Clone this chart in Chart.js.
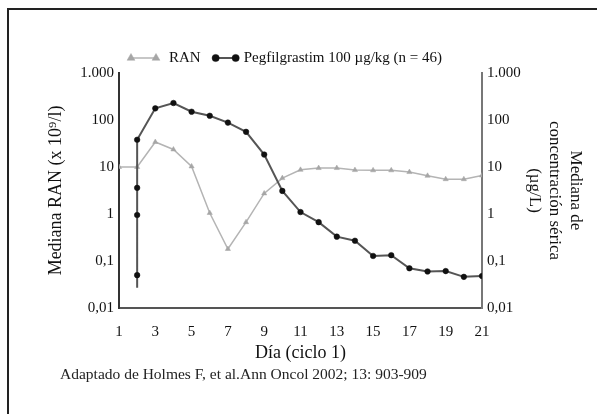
<!DOCTYPE html>
<html>
<head>
<meta charset="utf-8">
<script src="https://cdn.jsdelivr.net/npm/chart.js@4"></script>
<style>
  html, body { margin: 0; padding: 0; background: #fff; }
  #wrap { position: relative; width: 597px; height: 414px; overflow: hidden; }
  #marco { position: absolute; left: 7px; top: 8px; width: 620px; height: 430px;
           border-left: 2px solid #222; border-top: 2px solid #222; }
  #nota { position: absolute; left: 60px; top: 365px; font: 15.5px "Liberation Serif", serif; color: #222; }
  canvas { position: absolute; left: 0; top: 0; }
</style>
</head>
<body>
<div id="wrap">
  <div id="marco"></div>
  <canvas id="grafico" width="597" height="414"></canvas>
  <div id="nota">Adaptado de Holmes F, et al.Ann Oncol 2002; 13: 903-909</div>
</div>
<script>
// datos
const diasRAN = [1, 2, 3, 4, 5, 6, 7, 8, 9, 10, 11, 12, 13, 14, 15, 16, 17, 18, 19, 20, 21];
const valoresRAN = [10, 10, 34, 23.6, 10.3, 1.05, 0.18, 0.67, 2.74, 5.8, 8.7, 9.5, 9.5, 8.6, 8.5, 8.5, 7.8, 6.5, 5.5, 5.5, 6.6];

const diasPeg = [2, 2, 2, 2, 2, 3, 4, 5, 6, 7, 8, 9, 10, 11, 12, 13, 14, 15, 16, 17, 18, 19, 20, 21];
const valoresPeg = [0.027, 0.05, 0.95, 3.6, 38, 177, 230, 150, 123, 88, 56, 18.4, 3.1, 1.1, 0.67, 0.33, 0.27, 0.128, 0.133, 0.07, 0.06, 0.061, 0.046, 0.048];

const ticksY = [0.01, 0.1, 1, 10, 100, 1000];
const etiquetasY = ["0,01", "0,1", "1", "10", "100", "1.000"];

const etiquetaRAN = "RAN";
const etiquetaPeg = "Pegfilgrastim 100 µg/kg (n = 46)";

const fuente = "'Liberation Serif', 'Times New Roman', serif";

function formatoY(v) {
  const i = ticksY.findIndex(t => Math.abs(Math.log10(t) - Math.log10(v)) < 1e-6);
  return i >= 0 ? etiquetasY[i] : "";
}

// leyenda con dos marcadores y linea, como en la figura
const leyendaPlugin = {
  id: "leyenda",
  afterDraw(chart) {
    const ctx = chart.ctx;
    const y = 58;
    let x = 131;
    ctx.save();
    ctx.font = "15px " + fuente;
    ctx.textBaseline = "middle";
    chart.data.datasets.forEach((ds, i) => {
      const ancho = i === 0 ? 25 : 20;
      ctx.strokeStyle = ds.borderColor;
      ctx.lineWidth = ds.borderWidth;
      ctx.beginPath();
      ctx.moveTo(x, y);
      ctx.lineTo(x + ancho, y);
      ctx.stroke();
      [x, x + ancho].forEach(px => {
        ctx.fillStyle = ds.pointBackgroundColor;
        ctx.strokeStyle = ds.pointBorderColor;
        ctx.lineWidth = 0.5;
        Chart.helpers.drawPoint(ctx, {
          pointStyle: ds.pointStyle,
          radius: i === 0 ? 4.5 : 3.6,
          borderWidth: 0.5
        }, px, y);
      });
      ctx.fillStyle = "#111";
      const tx = x + ancho + (i === 0 ? 13 : 8);
      ctx.fillText(ds.label, tx, y);
      x = tx + ctx.measureText(ds.label).width + 15;
    });
    ctx.restore();
  }
};

new Chart(document.getElementById("grafico"), {
  type: "line",
  data: {
    datasets: [
      {
        label: etiquetaRAN,
        data: diasRAN.map((d, i) => ({ x: d, y: valoresRAN[i] })),
        yAxisID: "y",
        borderColor: "#b4b4b4",
        borderWidth: 1.5,
        pointStyle: "triangle",
        pointRadius: 3,
        pointBorderWidth: 0.5,
        pointBackgroundColor: "#a6a6a6",
        pointBorderColor: "#a6a6a6",
        order: 2
      },
      {
        label: etiquetaPeg,
        data: diasPeg.map((d, i) => ({ x: d, y: valoresPeg[i] })),
        yAxisID: "y2",
        borderColor: "#555",
        borderWidth: 2,
        pointStyle: "circle",
        pointRadius: ctx => ctx.dataIndex === 0 ? 0 : 2.8,
        pointBorderWidth: 0.5,
        pointBackgroundColor: "#111",
        pointBorderColor: "#111",
        order: 1
      }
    ]
  },
  options: {
    responsive: false,
    animation: false,
    layout: { padding: { top: 73, bottom: 46, left: 0, right: 0 } },
    plugins: {
      legend: { display: false },
      tooltip: { enabled: false }
    },
    scales: {
      x: {
        type: "linear",
        min: 1,
        max: 21,
        grid: { display: false, drawTicks: false },
        border: { display: true, color: "#555", width: 2 },
        ticks: {
          stepSize: 2,
          padding: 15,
          color: "#111",
          font: { family: fuente, size: 15 }
        },
        title: {
          display: true,
          text: "Día (ciclo 1)",
          color: "#111",
          font: { family: fuente, size: 18 },
          padding: { top: 0, bottom: 4 }
        },
        afterFit: s => { s.height = 60; }
      },
      y: {
        type: "logarithmic",
        position: "left",
        min: 0.01,
        max: 1000,
        afterBuildTicks: s => { s.ticks = ticksY.map(v => ({ value: v })); },
        grid: { display: false, drawTicks: false },
        border: { display: true, color: "#333", width: 2 },
        ticks: {
          padding: 5,
          color: "#111",
          font: { family: fuente, size: 15 },
          callback: formatoY
        },
        title: {
          display: true,
          text: "Mediana RAN (x 10⁹/l)",
          color: "#111",
          font: { family: fuente, size: 18 },
          padding: { top: 45 }
        },
        afterFit: s => { s.width = 119; }
      },
      y2: {
        type: "logarithmic",
        position: "right",
        min: 0.01,
        max: 1000,
        afterBuildTicks: s => { s.ticks = ticksY.map(v => ({ value: v })); },
        grid: { display: false, drawTicks: false },
        border: { display: true, color: "#777", width: 2 },
        ticks: {
          padding: 5,
          color: "#111",
          font: { family: fuente, size: 15 },
          callback: formatoY
        },
        title: {
          display: true,
          text: ["Mediana de", "concentración sérica", "(µg/L)"],
          color: "#111",
          font: { family: fuente, size: 17, lineHeight: 1.18 },
          padding: { top: 12 }
        },
        afterFit: s => { s.width = 115; }
      }
    }
  },
  plugins: [leyendaPlugin]
});
</script>
</body>
</html>
